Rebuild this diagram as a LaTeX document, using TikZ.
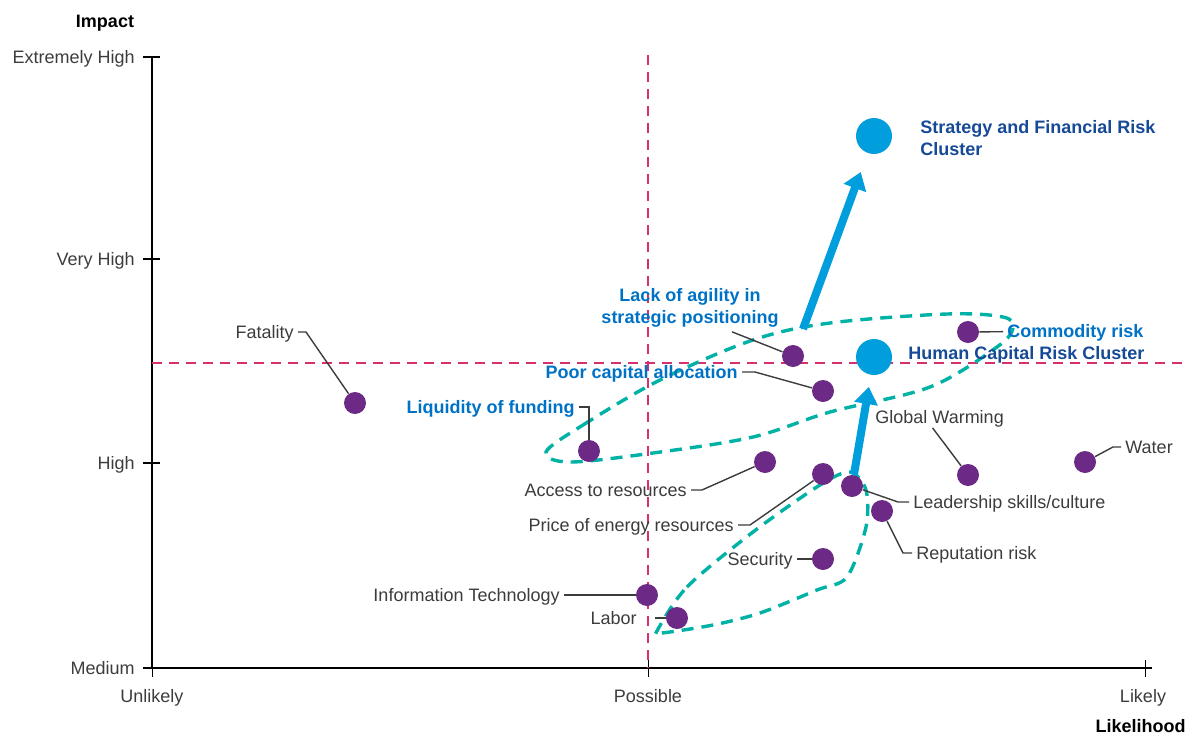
\documentclass[tikz,border=0pt]{standalone}
\usepackage{fontspec}
\setmainfont{Liberation Sans}
\usepackage{xcolor}
\usepackage{tikz}
\usetikzlibrary{arrows.meta}

\definecolor{riskpurple}{RGB}{108,42,134}
\definecolor{riskblue}{RGB}{0,158,220}
\definecolor{hotblue}{RGB}{0,114,198}
\definecolor{clusterblue}{RGB}{22,74,150}
\definecolor{quadline}{RGB}{214,48,110}
\definecolor{groupline}{RGB}{0,178,165}
\definecolor{txtgray}{RGB}{60,60,60}

\begin{document}
\begin{tikzpicture}[x=0.5pt,y=-0.5pt,
    dot/.style={circle,fill=riskpurple,minimum size=11pt,inner sep=0pt},
    cluster/.style={circle,fill=riskblue,minimum size=18pt,inner sep=0pt},
    txt/.style={inner sep=2pt,text=txtgray,text height=6.5pt,text depth=0pt,font=\fontsize{9}{11}\selectfont},
    hot/.style={inner sep=2pt,text=hotblue,text height=6.5pt,text depth=0pt,font=\fontsize{9}{11}\selectfont\bfseries},
    axlabel/.style={inner sep=2pt,text=black,text height=6.5pt,text depth=0pt,font=\fontsize{9}{11}\selectfont\bfseries},
    lead/.style={draw=txtgray,line width=0.7pt},
    quad/.style={quadline,line width=1pt,dash pattern=on 5pt off 3.5pt},
    group/.style={groupline,line width=1.7pt,dash pattern=on 6pt off 4pt},
    bigarrow/.style={riskblue,line width=4pt,-{Triangle[length=8.5pt,width=11.5pt]}}]
    \useasboundingbox (0,0) rectangle (1191,734);
    \draw[line width=0.7pt] (152,57) -- (152,668);
    \draw[line width=1pt] (145,668) -- (1152,668);
    \draw[line width=1.4pt] (143,57) -- (160,57);
    \draw[line width=1.4pt] (143,259) -- (160,259);
    \draw[line width=1.4pt] (143,463) -- (160,463);
    \draw[line width=1.4pt] (143,668) -- (160,668);
    \draw[line width=0.5pt] (152,660) -- (152,677);
    \draw[line width=0.5pt] (648,660) -- (648,677);
    \draw[line width=0.5pt] (1145,660) -- (1145,677);
    \node[axlabel] (impact) at (105,21) {Impact};
    \node[axlabel,anchor=east] (likelihood) at (1190,726) {Likelihood};
    \node[txt,anchor=east] (ext) at (139,57) {Extremely High};
    \node[txt,anchor=east] (vhigh) at (139,259) {Very High};
    \node[txt,anchor=east] (high) at (139,463) {High};
    \node[txt,anchor=east] (medium) at (139,668) {Medium};
    \node[txt] (unlikely) at (152,696) {Unlikely};
    \node[txt] (possible) at (648,696) {Possible};
    \node[txt] (likely) at (1143,696) {Likely};
    \draw[quad] (648,55) -- (648,668);
    \draw[quad] (152,363) -- (1185,363);
    \draw[group] plot[smooth cycle,tension=0.55] coordinates {(546,452) (583,425) (660,380) (753,340) (830,323) (947,314) (1003,317) (1013,328) (997,347) (930,387) (830,412) (753,437) (653,453) (570,462)};
    \draw[group] plot[smooth cycle,tension=0.5] coordinates {(657,631) (687,587) (753,532) (820,485) (850,472) (866,490) (866,527) (847,577) (817,590) (760,613) (713,625) (662,633)};
    \node[dot] (fatality) at (355,403) {};
    \node[dot] (liquidity) at (589,451) {};
    \node[dot] (poorcap) at (823,391) {};
    \node[dot] (agility) at (793,356) {};
    \node[dot] (commodity) at (968,332) {};
    \node[dot] (warming) at (968,475) {};
    \node[dot] (water) at (1085,462) {};
    \node[dot] (access) at (765,462) {};
    \node[dot] (energy) at (823,474) {};
    \node[dot] (leadership) at (852,486) {};
    \node[dot] (reputation) at (882,511) {};
    \node[dot] (security) at (823,559) {};
    \node[dot] (infotech) at (647,595) {};
    \node[dot] (labor) at (677,618) {};
    \node[cluster] (strategy) at (874,136) {};
    \node[cluster] (humancap) at (874,357) {};
    \node[txt,anchor=east] (fatalityL) at (298,332) {Fatality};
    \node[hot,anchor=east] (liquidityL) at (579,407) {Liquidity of funding};
    \node[hot,anchor=east] (poorcapL) at (742,372) {Poor capital allocation};
    \node[inner sep=2pt,text=hotblue,font=\fontsize{9}{11}\selectfont\bfseries,align=center] (agilityL) at (690,308) {Lack of agility in\\strategic positioning};
    \node[hot,anchor=west] (commodityL) at (1003,331) {Commodity risk};
    \node[inner sep=2pt,text=clusterblue,text height=6.5pt,text depth=0pt,font=\fontsize{9}{11}\selectfont\bfseries,anchor=west] (humancapL) at (904,353) {Human Capital Risk Cluster};
    \node[inner sep=2pt,text=clusterblue,font=\fontsize{9}{11}\selectfont\bfseries,align=left,anchor=west] (strategyL) at (916,138) {Strategy and Financial Risk\\Cluster};
    \node[txt,anchor=west] (warmingL) at (871,417) {Global Warming};
    \node[txt,anchor=west] (waterL) at (1121,447) {Water};
    \node[txt,anchor=east] (accessL) at (691,490) {Access to resources};
    \node[txt,anchor=east] (energyL) at (738,525) {Price of energy resources};
    \node[txt,anchor=west] (leadershipL) at (909,502) {Leadership skills/culture};
    \node[txt,anchor=west] (reputationL) at (912,553) {Reputation risk};
    \node[txt,anchor=east] (securityL) at (797,559) {Security};
    \node[txt,anchor=east] (infotechL) at (564,595) {Information Technology};
    \node[txt,anchor=east] (laborL) at (641,618) {Labor};
    \draw[lead] (fatalityL.east) -- ++(8,0) -- (fatality);
    \draw[lead] (liquidityL.east) -| (liquidity);
    \draw[lead] (poorcapL.east) -- ++(13,0) -- (poorcap);
    \draw[lead] ([xshift=21pt]agilityL.south) -- (agility);
    \draw[lead] (commodity) -- (commodityL);
    \draw[lead] ([xshift=-3.5pt]warmingL.south) -- (warming);
    \draw[lead] (waterL.west) -- ++(-8,0) -- (water);
    \draw[lead] (accessL.east) -- ++(11,0) -- (access);
    \draw[lead] (energyL.east) -- ++(12,0) -- (energy);
    \draw[lead] (leadershipL.west) -- ++(-11,0) -- (leadership);
    \draw[lead] (reputationL.west) -- ++(-9,0) -- (reputation);
    \draw[lead] (securityL) -- (security);
    \draw[lead] (infotechL) -- (infotech);
    \draw[lead] ([xshift=7pt]laborL.east) -- (labor);
    \coordinate (agilitybase) at (803,329);
    \draw[bigarrow,shorten >=10pt] (agilitybase) -- (strategy);
    \draw[bigarrow,shorten >=6pt] (leadership) -- (humancap);
\end{tikzpicture}
\end{document}
